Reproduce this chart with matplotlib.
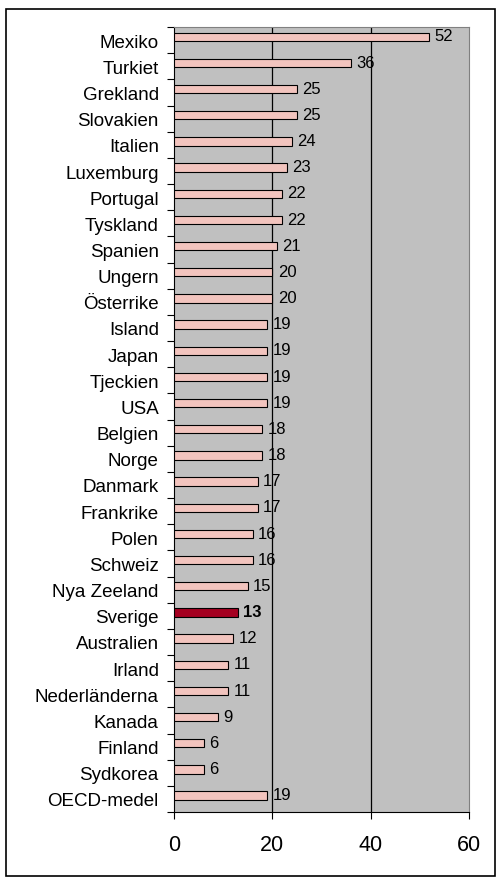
import matplotlib.pyplot as plt
from matplotlib.patches import Rectangle

plt.rcParams["font.family"] = ["Liberation Sans", "DejaVu Sans"]

countries = [
    "Mexiko", "Turkiet", "Grekland", "Slovakien", "Italien", "Luxemburg",
    "Portugal", "Tyskland", "Spanien", "Ungern", "Österrike", "Island",
    "Japan", "Tjeckien", "USA", "Belgien", "Norge", "Danmark", "Frankrike",
    "Polen", "Schweiz", "Nya Zeeland", "Sverige", "Australien", "Irland",
    "Nederländerna", "Kanada", "Finland", "Sydkorea", "OECD-medel",
]
values = [52, 36, 25, 25, 24, 23, 22, 22, 21, 20, 20, 19, 19, 19, 19,
          18, 18, 17, 17, 16, 16, 15, 13, 12, 11, 11, 9, 6, 6, 19]
highlight = "Sverige"
x_ticks = [0, 20, 40, 60]

fig = plt.figure(figsize=(4.96, 8.78), dpi=100)
ax = fig.add_axes([0.351, 0.074, 0.594, 0.894])

# outer frame around the whole chart
fig.patches.append(Rectangle((6 / 496, 1 / 878), 489 / 496, 867 / 878,
                             transform=fig.transFigure, fill=False,
                             edgecolor="black", linewidth=1.2))

ax.set_facecolor("#c0c0c0")
n = len(countries)
ypos = list(range(n))
shift = -0.13  # bars sit slightly above the row centre

for y, name, v in zip(ypos, countries, values):
    color = "#a50021" if name == highlight else "#f2c4be"
    ax.barh(y + shift, v, height=0.32, color=color, edgecolor="black",
            linewidth=0.8, zorder=3)
    ax.text(v + 1.1, y + shift - 0.03, str(v), va="center", ha="left",
            fontsize=12, fontweight="bold" if name == highlight else "normal",
            zorder=4)

ax.set_xlim(0, 60)
ax.set_ylim(n - 0.5, -0.5)
ax.set_xticks(x_ticks)
ax.set_xticklabels([str(t) for t in x_ticks], fontsize=15.5)
ax.tick_params(axis="x", direction="out", length=5, pad=11, width=0.8)

ax.set_yticks(ypos)
ax.set_yticklabels(countries, fontsize=13.5)
ax.tick_params(axis="y", which="major", length=0, pad=11)
ax.set_yticks([i - 0.5 for i in range(n + 1)], minor=True)
ax.tick_params(axis="y", which="minor", direction="out", length=5, width=0.8)

for gx in [20, 40]:
    ax.axvline(gx, color="black", linewidth=0.9, zorder=2)

ax.spines["left"].set_color("black")
ax.spines["bottom"].set_color("black")
ax.spines["top"].set_color("#808080")
ax.spines["right"].set_color("#808080")

fig.savefig("out.png", dpi=100)
